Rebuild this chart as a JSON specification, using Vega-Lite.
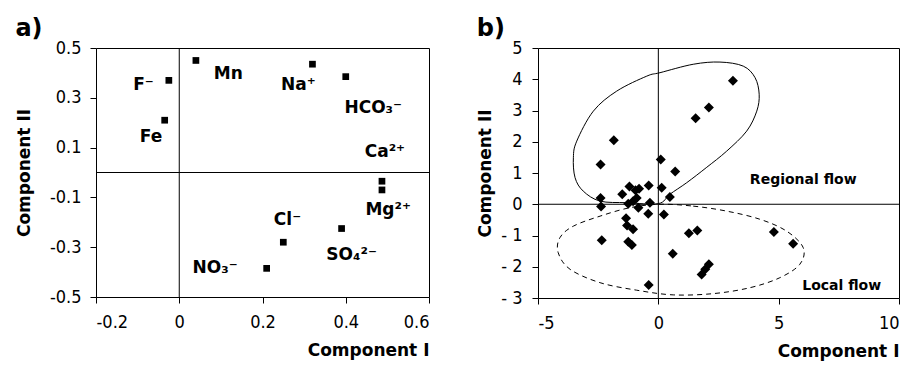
{
  "$schema": "https://vega.github.io/schema/vega-lite/v6.json",
  "background": "white",
  "padding": {"left": 14, "top": 16, "right": 5, "bottom": 5},
  "spacing": 109,
  "bounds": "flush",
  "config": {
    "view": {"stroke": "black", "strokeWidth": 1},
    "axis": {"domain": false, "grid": false, "ticks": true, "tickColor": "black", "tickSize": 6, "labelFont": "DejaVu Sans Condensed", "labelFontSize": 18, "labelColor": "black", "labelOverlap": false, "labelSeparation": 0, "titleFont": "DejaVu Sans", "titleFontSize": 17, "titleFontWeight": "bold", "titleColor": "black"},
    "axisX": {"labelPadding": 10},
    "title": {"font": "DejaVu Sans", "fontSize": 24, "fontWeight": "bold", "anchor": "start", "frame": "bounds", "color": "black", "offset": -2}
  },
  "datasets": {
    "ionPoints": [
      {"ion": "Mn", "x": 0.04, "y": 0.45},
      {"ion": "F", "x": -0.025, "y": 0.37},
      {"ion": "Fe", "x": -0.035, "y": 0.21},
      {"ion": "Na", "x": 0.32, "y": 0.435},
      {"ion": "HCO3", "x": 0.40, "y": 0.385},
      {"ion": "Ca", "x": 0.487, "y": -0.035},
      {"ion": "Mg", "x": 0.487, "y": -0.07},
      {"ion": "Cl", "x": 0.25, "y": -0.28},
      {"ion": "SO4", "x": 0.39, "y": -0.225},
      {"ion": "NO3", "x": 0.21, "y": -0.385}
    ],
    "ionLabels": [
      {"label": "Mn", "x": 0.118, "y": 0.396},
      {"label": "F⁻", "x": -0.086, "y": 0.351},
      {"label": "Fe", "x": -0.068, "y": 0.144},
      {"label": "Na⁺", "x": 0.286, "y": 0.351},
      {"label": "HCO₃⁻", "x": 0.466, "y": 0.258},
      {"label": "Ca²⁺", "x": 0.494, "y": 0.083},
      {"label": "Mg²⁺", "x": 0.502, "y": -0.151},
      {"label": "Cl⁻", "x": 0.26, "y": -0.191},
      {"label": "SO₄²⁻", "x": 0.414, "y": -0.331},
      {"label": "NO₃⁻", "x": 0.086, "y": -0.385}
    ],
    "samples": [
      {"x": 3.1, "y": 3.95}, {"x": 2.1, "y": 3.1}, {"x": 1.55, "y": 2.75},
      {"x": -1.85, "y": 2.05}, {"x": -2.4, "y": 1.27}, {"x": 0.1, "y": 1.43},
      {"x": 0.7, "y": 1.05}, {"x": -2.4, "y": 0.2}, {"x": -2.38, "y": -0.07},
      {"x": -2.35, "y": -1.15}, {"x": -1.5, "y": 0.32}, {"x": -1.2, "y": 0.57},
      {"x": -0.95, "y": 0.45}, {"x": -0.8, "y": 0.5}, {"x": -0.4, "y": 0.6},
      {"x": 0.14, "y": 0.53}, {"x": 0.48, "y": 0.23}, {"x": -1.25, "y": 0.02},
      {"x": -0.9, "y": 0.2}, {"x": -0.83, "y": -0.11}, {"x": -0.35, "y": 0.05},
      {"x": -0.42, "y": -0.3}, {"x": 0.23, "y": -0.33}, {"x": -1.34, "y": -0.45},
      {"x": -1.3, "y": -0.68}, {"x": -1.05, "y": -0.8}, {"x": -1.25, "y": -1.2},
      {"x": -1.1, "y": -1.3}, {"x": 0.6, "y": -1.58}, {"x": -0.4, "y": -2.58},
      {"x": 1.27, "y": -0.93}, {"x": 1.62, "y": -0.84}, {"x": 4.8, "y": -0.89},
      {"x": 5.6, "y": -1.26}, {"x": 1.8, "y": -2.25}, {"x": 1.95, "y": -2.08},
      {"x": 2.1, "y": -1.92}, {"x": -1.05, "y": 0.1}
    ],
    "regional": [
      {"o": 1, "x": 2.56, "y": 4.55}, {"o": 2, "x": 3.53, "y": 4.42}, {"o": 3, "x": 4.02, "y": 4.05},
      {"o": 4, "x": 4.19, "y": 3.52}, {"o": 5, "x": 4.09, "y": 2.98}, {"o": 6, "x": 3.67, "y": 2.34},
      {"o": 7, "x": 2.84, "y": 1.7}, {"o": 8, "x": 1.99, "y": 1.17}, {"o": 9, "x": 1.18, "y": 0.69},
      {"o": 10, "x": 0.48, "y": 0.32}, {"o": 11, "x": 0.0, "y": 0.02}, {"o": 12, "x": -1.31, "y": 0.05},
      {"o": 13, "x": -2.42, "y": 0.1}, {"o": 14, "x": -3.12, "y": 0.42}, {"o": 15, "x": -3.46, "y": 0.85},
      {"o": 16, "x": -3.53, "y": 1.49}, {"o": 17, "x": -3.39, "y": 2.02}, {"o": 18, "x": -2.7, "y": 2.98},
      {"o": 19, "x": -1.73, "y": 3.62}, {"o": 20, "x": -0.48, "y": 4.1}, {"o": 21, "x": 0.07, "y": 4.21},
      {"o": 22, "x": 1.45, "y": 4.48}
    ],
    "local": [
      {"o": 1, "x": 0.07, "y": 0.0}, {"o": 2, "x": 1.45, "y": -0.06}, {"o": 3, "x": 2.84, "y": -0.22},
      {"o": 4, "x": 4.22, "y": -0.48}, {"o": 5, "x": 5.33, "y": -0.86}, {"o": 6, "x": 6.02, "y": -1.39},
      {"o": 7, "x": 5.88, "y": -1.92}, {"o": 8, "x": 5.05, "y": -2.35}, {"o": 9, "x": 3.81, "y": -2.67},
      {"o": 10, "x": 2.28, "y": -2.86}, {"o": 11, "x": 0.62, "y": -2.9}, {"o": 12, "x": -0.9, "y": -2.75},
      {"o": 13, "x": -2.42, "y": -2.51}, {"o": 14, "x": -3.67, "y": -2.08}, {"o": 15, "x": -4.16, "y": -1.55},
      {"o": 16, "x": -4.09, "y": -1.07}, {"o": 17, "x": -3.53, "y": -0.7}, {"o": 18, "x": -2.42, "y": -0.38},
      {"o": 19, "x": -1.18, "y": -0.11}
    ],
    "flowLabels": [
      {"label": "Regional flow", "x": 6.02, "y": 0.78},
      {"label": "Local flow", "x": 7.62, "y": -2.62}
    ]
  },
  "hconcat": [
    {
      "title": "a)",
      "width": 333,
      "height": 249,
      "layer": [
        {
          "data": {"name": "ionPoints"},
          "mark": {"type": "point", "shape": "square", "filled": true, "color": "black", "size": 45, "opacity": 1},
          "encoding": {
            "x": {"field": "x", "type": "quantitative", "scale": {"domain": [-0.2, 0.6], "nice": false, "zero": false},
              "axis": {"values": [-0.2, 0, 0.2, 0.4, 0.6], "format": "~g", "labelExpr": "replace(datum.label, '−', '-')", "labelOverlap": false, "title": "Component I", "titleAnchor": "end", "titlePadding": 11}},
            "y": {"field": "y", "type": "quantitative", "scale": {"domain": [-0.5, 0.5], "nice": false, "zero": false},
              "axis": {"values": [-0.5, -0.3, -0.1, 0.1, 0.3, 0.5], "format": "~g", "labelExpr": "replace(datum.label, '−', '-')", "labelOverlap": false, "labelPadding": 9, "title": "Component II", "titlePadding": 16}}
          }
        },
        {
          "data": {"values": [{}]},
          "mark": {"type": "rule", "color": "black", "strokeWidth": 1},
          "encoding": {"x": {"datum": 0, "type": "quantitative"}}
        },
        {
          "data": {"values": [{}]},
          "mark": {"type": "rule", "color": "black", "strokeWidth": 1},
          "encoding": {"y": {"datum": 0, "type": "quantitative"}}
        },
        {
          "data": {"name": "ionLabels"},
          "mark": {"type": "text", "font": "DejaVu Sans", "fontWeight": "bold", "fontSize": 17, "color": "black", "align": "center", "baseline": "middle"},
          "encoding": {
            "x": {"field": "x", "type": "quantitative"},
            "y": {"field": "y", "type": "quantitative"},
            "text": {"field": "label"}
          }
        }
      ]
    },
    {
      "title": "b)",
      "width": 361,
      "height": 250,
      "layer": [
        {
          "data": {"name": "samples"},
          "mark": {"type": "point", "shape": "diamond", "filled": true, "color": "black", "size": 100, "opacity": 1},
          "encoding": {
            "x": {"field": "x", "type": "quantitative", "scale": {"domain": [-5, 10], "nice": false, "zero": false},
              "axis": {"values": [-5, 0, 5, 10], "format": "d", "labelExpr": "replace(datum.label, '−', '-')", "labelOverlap": false, "title": "Component I", "titleAnchor": "end", "titlePadding": 11}},
            "y": {"field": "y", "type": "quantitative", "scale": {"domain": [-3, 5], "nice": false, "zero": false},
              "axis": {"values": [-3, -2, -1, 0, 1, 2, 3, 4, 5], "tickCount": 9, "format": "d", "labelExpr": "replace(datum.label, '−', '- ')", "labelOverlap": false, "labelBound": false, "labelPadding": 10, "title": "Component II", "titlePadding": 6}}
          }
        },
        {
          "data": {"values": [{}]},
          "mark": {"type": "rule", "color": "black", "strokeWidth": 1},
          "encoding": {"x": {"datum": 0, "type": "quantitative"}}
        },
        {
          "data": {"values": [{}]},
          "mark": {"type": "rule", "color": "black", "strokeWidth": 1},
          "encoding": {"y": {"datum": 0, "type": "quantitative"}}
        },
        {
          "data": {"name": "regional"},
          "mark": {"type": "line", "interpolate": "cardinal-closed", "color": "black", "strokeWidth": 1},
          "encoding": {
            "x": {"field": "x", "type": "quantitative"},
            "y": {"field": "y", "type": "quantitative"},
            "order": {"field": "o", "type": "quantitative"}
          }
        },
        {
          "data": {"name": "local"},
          "mark": {"type": "line", "interpolate": "cardinal-closed", "color": "black", "strokeWidth": 1, "strokeDash": [5, 4]},
          "encoding": {
            "x": {"field": "x", "type": "quantitative"},
            "y": {"field": "y", "type": "quantitative"},
            "order": {"field": "o", "type": "quantitative"}
          }
        },
        {
          "data": {"name": "flowLabels"},
          "mark": {"type": "text", "font": "DejaVu Sans", "fontWeight": "bold", "fontSize": 14, "color": "black", "align": "center", "baseline": "middle"},
          "encoding": {
            "x": {"field": "x", "type": "quantitative"},
            "y": {"field": "y", "type": "quantitative"},
            "text": {"field": "label"}
          }
        }
      ]
    }
  ]
}
